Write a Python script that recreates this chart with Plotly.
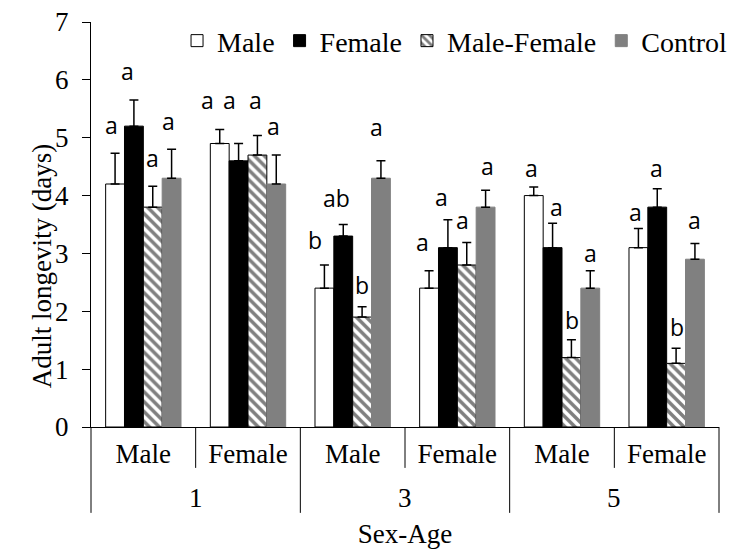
import plotly.graph_objects as go

# Categories: sex within age (days)
ages = ["1", "1", "3", "3", "5", "5"]
sexes = ["Male", "Female", "Male", "Female", "Male", "Female"]
age_labels = ["1", "3", "5"]

# Mean adult longevity (days) and standard errors per treatment
male = [4.2, 4.9, 2.4, 2.4, 4.0, 3.1]
male_err = [0.53, 0.24, 0.40, 0.30, 0.15, 0.33]
female = [5.2, 4.6, 3.3, 3.1, 3.1, 3.8]
female_err = [0.45, 0.30, 0.20, 0.48, 0.42, 0.32]
male_female = [3.8, 4.7, 1.9, 2.8, 1.2, 1.1]
male_female_err = [0.36, 0.34, 0.18, 0.39, 0.31, 0.26]
control = [4.3, 4.2, 4.3, 3.8, 2.4, 2.9]
control_err = [0.50, 0.50, 0.30, 0.29, 0.30, 0.27]

# Significance letters
male_sig = ["a", "a", "b", "a", "a", "a"]
female_sig = ["a", "a", "ab", "a", "a", "a"]
male_female_sig = ["a", "a", "b", "a", "b", "b"]
control_sig = ["a", "a", "a", "a", "a", "a"]

# Letter placement: horizontal offset from category centre, height in days
male_lab_dx = [-0.30, -0.39, -0.36, -0.33, -0.29, -0.30]
male_lab_y = [5.22, 5.65, 3.23, 3.20, 4.47, 3.72]
female_lab_dx = [-0.156, -0.18, -0.15, -0.15, -0.048, -0.096]
female_lab_y = [6.15, 5.65, 3.96, 3.98, 3.81, 4.47]
mf_lab_dx = [0.083, 0.076, 0.089, 0.054, 0.093, 0.096]
mf_lab_y = [4.65, 5.65, 2.45, 3.58, 1.85, 1.73]
control_lab_dx = [0.236, 0.24, 0.23, 0.29, 0.27, 0.27]
control_lab_y = [5.29, 5.20, 5.19, 4.51, 3.01, 3.58]

SERIF = "Liberation Serif, Times New Roman, serif"
SANS = "Open Sans, Arial, sans-serif"
FS = 27

xpos = list(range(len(sexes)))


def err(values):
    return dict(type="data", array=values, arrayminus=[0] * len(values),
                symmetric=False, color="black", thickness=1.5, width=4.5)


fig = go.Figure()
fig.add_trace(go.Bar(
    name="Male", x=xpos, y=male, error_y=err(male_err),
    marker=dict(color="white", line=dict(color="black", width=1)),
))
fig.add_trace(go.Bar(
    name="Female", x=xpos, y=female, error_y=err(female_err),
    marker=dict(color="black", line=dict(color="black", width=1)),
))
fig.add_trace(go.Bar(
    name="Male-Female", x=xpos, y=male_female, error_y=err(male_female_err),
    marker=dict(color="white", line=dict(color="black", width=1),
                pattern=dict(shape="\\", fgcolor="black", bgcolor="white",
                             size=7, solidity=0.5)),
))
fig.add_trace(go.Bar(
    name="Control", x=xpos, y=control, error_y=err(control_err),
    marker=dict(color="#808080", line=dict(color="#808080", width=1)),
))

annotations = []
for sig, dxs, ys in [
    (male_sig, male_lab_dx, male_lab_y),
    (female_sig, female_lab_dx, female_lab_y),
    (male_female_sig, mf_lab_dx, mf_lab_y),
    (control_sig, control_lab_dx, control_lab_y),
]:
    for i, (s, dx, yy) in enumerate(zip(sig, dxs, ys)):
        annotations.append(dict(
            x=i + dx, y=yy, xref="x", yref="y", text=s, showarrow=False,
            font=dict(family=SANS, size=23, color="black"),
        ))

# Age labels under each pair of sex categories
for k, lab in enumerate(age_labels):
    annotations.append(dict(
        x=2 * k + 0.5, y=-0.175, xref="x", yref="paper", text=lab,
        showarrow=False, yanchor="middle",
        font=dict(family=SERIF, size=FS, color="black"),
    ))

# Y-axis title
annotations.append(dict(
    x=-0.105, y=0.397, xref="paper", yref="paper",
    text="Adult longevity (days)", textangle=-90, showarrow=False,
    font=dict(family=SERIF, size=FS, color="black"),
))

# Category dividers below the x axis
shapes = []
n = len(sexes)
for k in range(n + 1):
    long_line = (k % 2 == 0)
    shapes.append(dict(
        type="line", xref="paper", yref="paper",
        x0=k / n, x1=k / n, y0=0, y1=-0.212 if long_line else -0.101,
        line=dict(color="black", width=1),
    ))

fig.update_layout(
    width=735, height=549,
    margin=dict(l=91, r=16, t=22, b=122, autoexpand=False),
    paper_bgcolor="white", plot_bgcolor="white",
    barmode="group", bargap=0.28, bargroupgap=0,
    font=dict(family=SERIF, size=FS, color="black"),
    legend=dict(
        orientation="h", x=0.137, y=1.015, xanchor="left", yanchor="top",
        bgcolor="rgba(0,0,0,0)", font=dict(family=SERIF, size=28),
        traceorder="normal",
    ),
    annotations=annotations,
    shapes=shapes,
    xaxis=dict(
        range=[-0.5, 5.5], tickmode="array", tickvals=xpos, ticktext=sexes,
        showline=True, linecolor="black", linewidth=1, ticks="",
        showgrid=False, zeroline=False, ticklabelstandoff=3,
        automargin=False,
        tickfont=dict(family=SERIF, size=FS),
        title=dict(text="Sex-Age", standoff=72, font=dict(family=SERIF, size=FS)),
    ),
    yaxis=dict(
        range=[0, 7], dtick=1, tick0=0, ticks="outside", ticklen=8,
        tickcolor="black", tickwidth=1, showline=True, linecolor="black",
        linewidth=1, showgrid=False, zeroline=False, ticklabelstandoff=8,
        automargin=False,
        tickfont=dict(family=SERIF, size=FS),
    ),
)

fig.write_html("out.html")
